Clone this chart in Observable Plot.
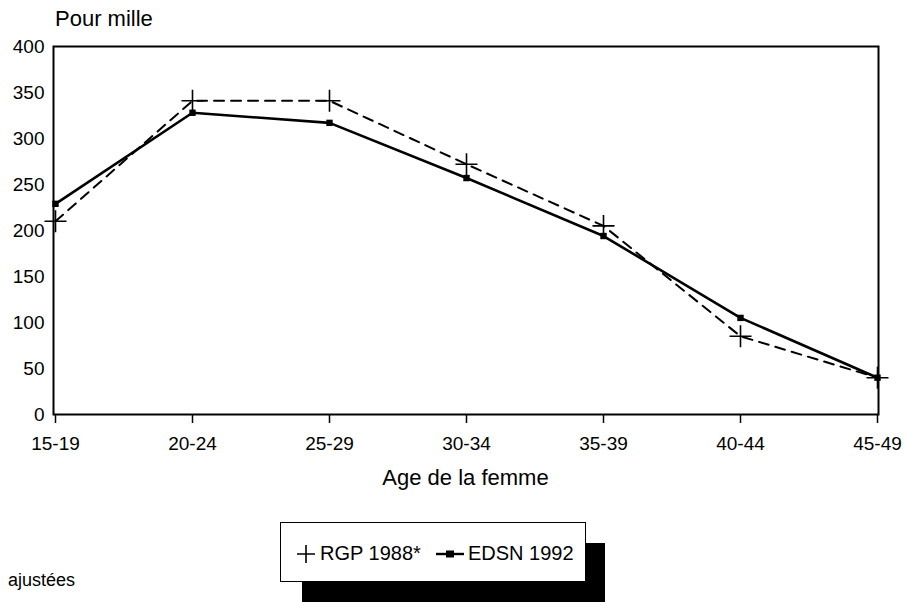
<!DOCTYPE html>
<html>
<head>
<meta charset="utf-8">
<script src="https://cdn.jsdelivr.net/npm/d3@7"></script>
<script src="https://cdn.jsdelivr.net/npm/@observablehq/plot@0.6"></script>
<style>
  html, body { margin: 0; padding: 0; background: #fff; }
  #wrap { position: relative; width: 907px; height: 602px; overflow: hidden; font-family: "Liberation Sans", Arial, sans-serif; color: #000; }
  #wrap svg.plot { position: absolute; left: 0; top: 0; }
  .txt { position: absolute; white-space: nowrap; line-height: 1; }
  #ytitle { left: 55px; top: 8px; font-size: 22px; }
  #xtitle { left: 0; width: 931px; text-align: center; top: 467px; font-size: 22px; }
  #foot { left: 8px; top: 571px; font-size: 18px; }
  #shadow { position: absolute; left: 302px; top: 543px; width: 303px; height: 70px; background: #000; }
  #legend { position: absolute; left: 280px; top: 522px; width: 304px; height: 58px; background: #fff; border: 1.5px solid #000; }
  #legend .item { position: absolute; top: 19px; font-size: 20px; display: flex; align-items: center; }
</style>
</head>
<body>
<div id="wrap">
  <div class="txt" id="ytitle">Pour mille</div>
  <div class="txt" id="xtitle">Age de la femme</div>
  <div id="shadow"></div>
  <div id="legend"></div>
  <div class="txt" id="foot">ajustées</div>
</div>
<script>
const ages = ["15-19", "20-24", "25-29", "30-34", "35-39", "40-44", "45-49"];
const rgp1988 = [210, 341, 341, 272, 205, 85, 40];
const edsn1992 = [229, 328, 317, 257, 194, 105, 40];
const yTicks = [0, 50, 100, 150, 200, 250, 300, 350, 400];
const seriesNames = ["RGP 1988*", "EDSN 1992"];

const rows = [];
ages.forEach((a, i) => {
  rows.push({age: a, value: rgp1988[i], series: seriesNames[0]});
  rows.push({age: a, value: edsn1992[i], series: seriesNames[1]});
});
const rgpRows = rows.filter(d => d.series === seriesNames[0]);
const edsnRows = rows.filter(d => d.series === seriesNames[1]);

// thin "+" cross symbol
const crossSymbol = {
  draw(context, size) {
    const r = Math.sqrt(size / Math.PI);
    context.moveTo(-r, 0); context.lineTo(r, 0);
    context.moveTo(0, -r); context.lineTo(0, r);
  }
};

const chart = Plot.plot({
  width: 907,
  height: 602,
  marginLeft: 53,
  marginRight: 29,
  marginTop: 46,
  marginBottom: 188,
  style: {fontFamily: "'Liberation Sans', Arial, sans-serif", fontSize: "19px", color: "#000", background: "transparent"},
  x: {type: "point", domain: ages, padding: 0, label: null},
  y: {domain: [0, 400], label: null},
  marks: [
    Plot.frame({stroke: "#000", strokeWidth: 2}),
    Plot.axisY({ticks: yTicks, tickSize: 0, tickPadding: 9, label: null, fontSize: 19}),
    Plot.axisX({tickSize: 9, tickPadding: 13, strokeWidth: 1.5, label: null, fontSize: 19}),
    Plot.line(rgpRows, {x: "age", y: "value", stroke: "#000", strokeWidth: 2, strokeDasharray: "10,7"}),
    Plot.line(edsnRows, {x: "age", y: "value", stroke: "#000", strokeWidth: 2.6}),
    Plot.dot(rgpRows, {x: "age", y: "value", symbol: crossSymbol, r: 11, stroke: "#000", strokeWidth: 1.6, fill: "none"}),
    Plot.dot(edsnRows, {x: "age", y: "value", symbol: "square", r: 3.6, fill: "#000", stroke: "none"})
  ]
});
chart.classList.add("plot");
document.getElementById("wrap").insertBefore(chart, document.getElementById("ytitle"));

// Legend
const legend = document.getElementById("legend");
const items = [
  {name: seriesNames[0], left: 14, svg: '<svg width="22" height="22" style="margin-right:3px"><path d="M2,11H20M11,2V20" stroke="#000" stroke-width="1.6" fill="none"/></svg>'},
  {name: seriesNames[1], left: 155, svg: '<svg width="28" height="22" style="margin-right:4px"><path d="M0,11H28" stroke="#000" stroke-width="2.4"/><rect x="10" y="7.5" width="8" height="7" fill="#000"/></svg>'}
];
items.forEach(it => {
  const d = document.createElement("div");
  d.className = "item";
  d.style.left = it.left + "px";
  d.innerHTML = it.svg + "<span>" + it.name + "</span>";
  legend.appendChild(d);
});
</script>
</body>
</html>
